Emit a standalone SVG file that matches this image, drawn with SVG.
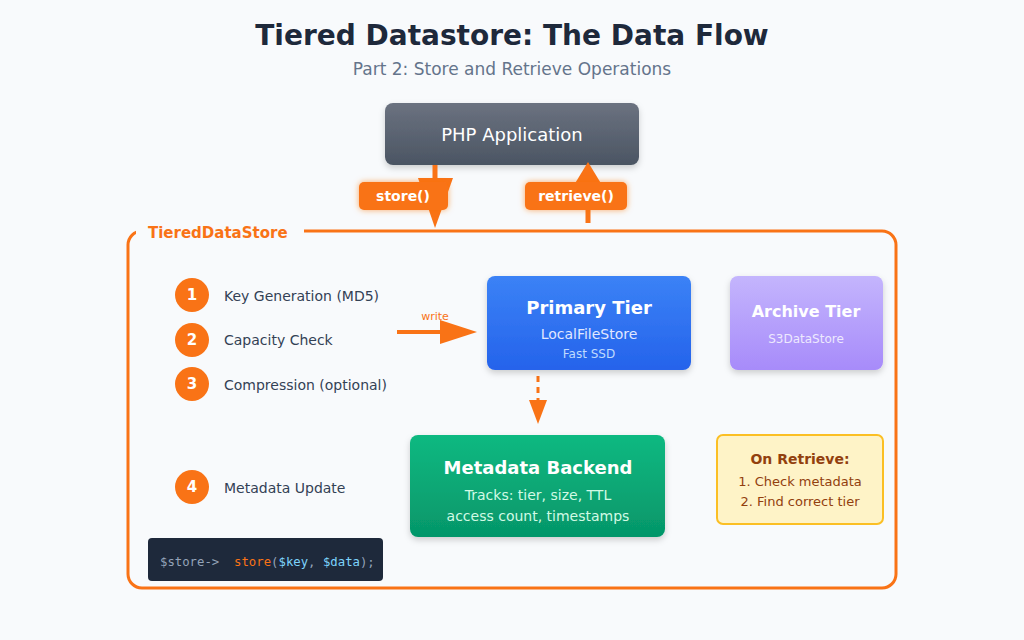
<svg xmlns="http://www.w3.org/2000/svg" width="1024" height="640" viewBox="0 0 1024 640">
<defs>
<style>
text{font-family:"DejaVu Sans","Noto Sans",sans-serif}
text.mono{font-family:"DejaVu Sans Mono","Liberation Mono",monospace}
.step{fill:#f97316}
.stepn{fill:#fff;font-size:15px;font-weight:bold;text-anchor:middle}
.stept{fill:#334155;font-size:14px}
.lbl{fill:#f97316}
.lblt{fill:#fff;font-size:14px;font-weight:bold;text-anchor:middle}
</style>
<linearGradient id="gApp" x1="0" y1="0" x2="0" y2="1"><stop offset="0" stop-color="#6b7280"/><stop offset="1" stop-color="#4b5563"/></linearGradient>
<linearGradient id="gPri" x1="0" y1="0" x2="0" y2="1"><stop offset="0" stop-color="#3b82f6"/><stop offset="1" stop-color="#2563eb"/></linearGradient>
<linearGradient id="gArc" x1="0" y1="0" x2="0" y2="1"><stop offset="0" stop-color="#c4b5fd"/><stop offset="1" stop-color="#a78bfa"/></linearGradient>
<linearGradient id="gMeta" x1="0" y1="0" x2="0" y2="1"><stop offset="0" stop-color="#10b981"/><stop offset="1" stop-color="#059669"/></linearGradient>
<filter id="sh" x="-20%" y="-20%" width="140%" height="150%"><feDropShadow dx="0" dy="3" stdDeviation="3" flood-color="#000" flood-opacity="0.18"/></filter>
<filter id="glow" x="-30%" y="-50%" width="160%" height="200%"><feDropShadow dx="0" dy="0" stdDeviation="3" flood-color="#f97316" flood-opacity="0.6"/></filter>
</defs>
<rect width="1024" height="640" fill="#f8fafc"/>
<text x="512" y="45" text-anchor="middle" font-size="28" font-weight="bold" fill="#1e293b">Tiered Datastore: The Data Flow</text>
<text x="512" y="75" text-anchor="middle" font-size="17" fill="#64748b">Part 2: Store and Retrieve Operations</text>

<g id="tiered">
<rect x="128" y="231" width="768" height="357" rx="14" fill="none" stroke="#f97316" stroke-width="3"/>
<rect x="136" y="222" width="168" height="20" fill="#f8fafc"/>
<text x="148" y="238" font-size="15" font-weight="bold" fill="#f97316">TieredDataStore</text>
</g>

<g id="app">
<rect x="385" y="103" width="254" height="62" rx="8" fill="url(#gApp)" filter="url(#sh)"/>
<text x="512" y="141" text-anchor="middle" font-size="18" fill="#fff">PHP Application</text>
</g>

<g id="connectors">
<line x1="435" y1="165" x2="435" y2="200" stroke="#f97316" stroke-width="5"/>
<polygon points="418,178 453,178 435,228" fill="#f97316"/>
<line x1="588" y1="190" x2="588" y2="223" stroke="#f97316" stroke-width="5"/>
<polygon points="571,190 605,190 588,162" fill="#f97316"/>
<line x1="397" y1="332" x2="445" y2="332" stroke="#f97316" stroke-width="4"/>
<polygon points="440,320 477,332 440,344" fill="#f97316"/>
<text x="435" y="320" text-anchor="middle" font-size="11" fill="#f97316">write</text>
<line x1="538" y1="376" x2="538" y2="402" stroke="#f97316" stroke-width="3" stroke-dasharray="6,5"/>
<polygon points="529,400 547,400 538,424" fill="#f97316"/>
</g>

<g id="store-label">
<rect x="359" y="182" width="89" height="28" rx="5" class="lbl" filter="url(#glow)"/>
<text x="403" y="201" class="lblt">store()</text>
</g>
<g id="retrieve-label">
<rect x="525" y="182" width="102" height="28" rx="5" class="lbl" filter="url(#glow)"/>
<text x="576" y="201" class="lblt">retrieve()</text>
</g>

<g id="step1"><circle cx="192" cy="295" r="17" class="step"/><text x="192" y="300" class="stepn">1</text><text x="224" y="301" class="stept">Key Generation (MD5)</text></g>
<g id="step2"><circle cx="192" cy="340" r="17" class="step"/><text x="192" y="345" class="stepn">2</text><text x="224" y="345" class="stept">Capacity Check</text></g>
<g id="step3"><circle cx="192" cy="384" r="17" class="step"/><text x="192" y="389" class="stepn">3</text><text x="224" y="390" class="stept">Compression (optional)</text></g>
<g id="step4"><circle cx="192" cy="487" r="17" class="step"/><text x="192" y="492" class="stepn">4</text><text x="224" y="493" class="stept">Metadata Update</text></g>

<g id="primary">
<rect x="487" y="276" width="204" height="94" rx="8" fill="url(#gPri)" filter="url(#sh)"/>
<text x="589" y="314" text-anchor="middle" font-size="18" font-weight="bold" fill="#fff">Primary Tier</text>
<text x="589" y="339" text-anchor="middle" font-size="14" fill="#e0e7ff">LocalFileStore</text>
<text x="589" y="358" text-anchor="middle" font-size="12" fill="#bfdbfe">Fast SSD</text>
</g>

<g id="archive">
<rect x="730" y="276" width="153" height="94" rx="8" fill="url(#gArc)" filter="url(#sh)"/>
<text x="806" y="317" text-anchor="middle" font-size="16" font-weight="bold" fill="#fff">Archive Tier</text>
<text x="806" y="343" text-anchor="middle" font-size="12" fill="#ede9fe">S3DataStore</text>
</g>

<g id="metadata">
<rect x="410" y="435" width="255" height="102" rx="8" fill="url(#gMeta)" filter="url(#sh)"/>
<text x="538" y="474" text-anchor="middle" font-size="18" font-weight="bold" fill="#fff">Metadata Backend</text>
<text x="538" y="500" text-anchor="middle" font-size="14" fill="#d1fae5">Tracks: tier, size, TTL</text>
<text x="538" y="521" text-anchor="middle" font-size="14" fill="#d1fae5">access count, timestamps</text>
</g>

<g id="on-retrieve">
<rect x="717" y="435" width="166" height="89" rx="6" fill="#fef3c7" stroke="#fbbf24" stroke-width="2"/>
<text x="800" y="464" text-anchor="middle" font-size="14" font-weight="bold" fill="#92400e">On Retrieve:</text>
<text x="800" y="486" text-anchor="middle" font-size="13" fill="#92400e">1. Check metadata</text>
<text x="800" y="506" text-anchor="middle" font-size="13" fill="#92400e">2. Find correct tier</text>
</g>

<g id="code">
<rect x="148" y="538" width="235" height="43" rx="4" fill="#1e293b"/>
<text x="160" y="566" class="mono" font-size="12.3" xml:space="preserve"><tspan fill="#94a3b8">$store-&gt;  </tspan><tspan fill="#f97316">store</tspan><tspan fill="#94a3b8">(</tspan><tspan fill="#7dd3fc">$key</tspan><tspan fill="#94a3b8">, </tspan><tspan fill="#7dd3fc">$data</tspan><tspan fill="#94a3b8">);</tspan></text>
</g>
</svg>
